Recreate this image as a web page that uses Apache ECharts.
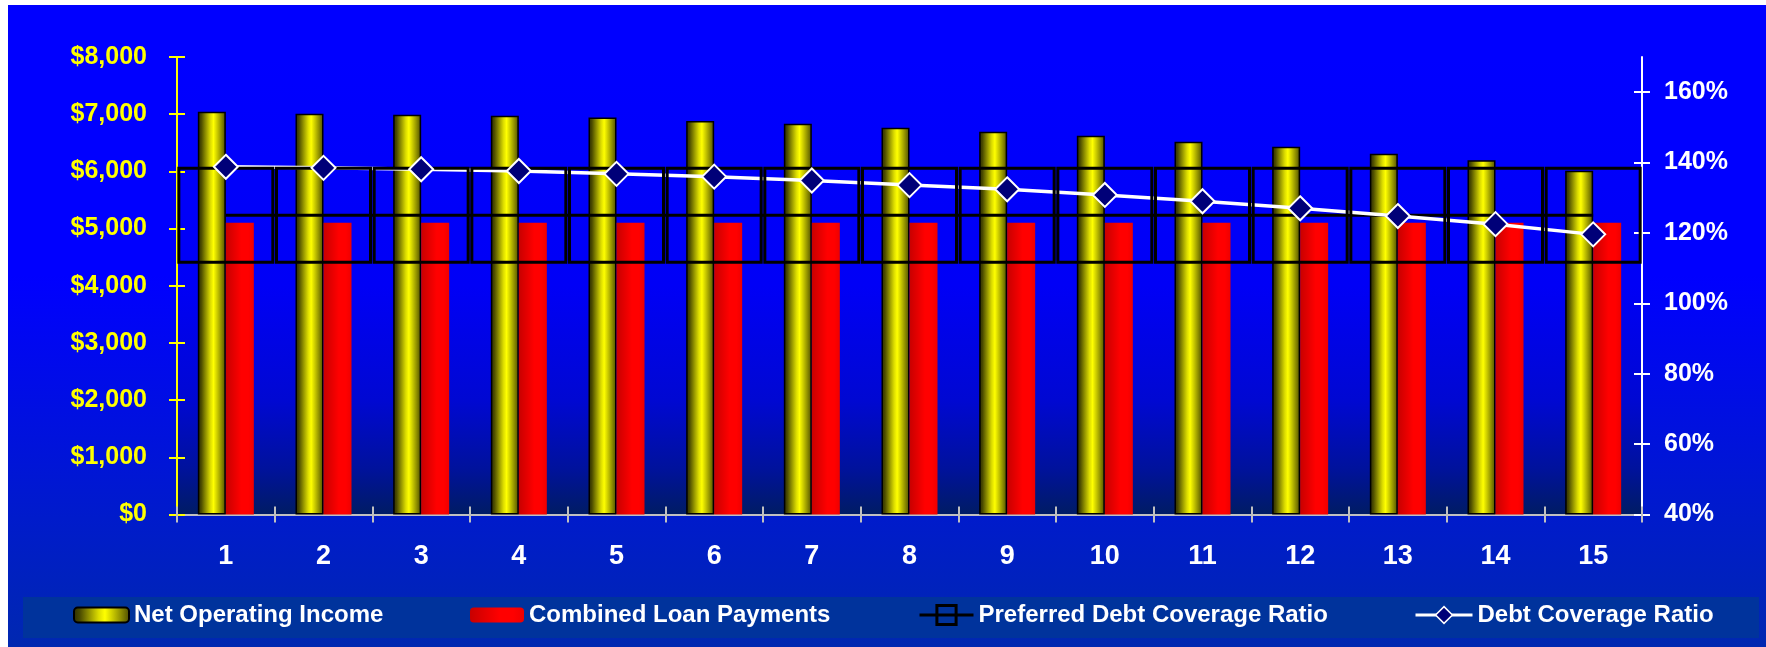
<!DOCTYPE html>
<html>
<head>
<meta charset="utf-8">
<title>Debt Coverage</title>
<script src="https://cdn.jsdelivr.net/npm/echarts@6/dist/echarts.min.js"></script>
<style>
  html, body { margin: 0; padding: 0; background: #ffffff; }
  #chart { width: 1766px; height: 647px; }
</style>
</head>
<body>
<div id="chart"></div>
<script>
// Year numbers along the bottom axis
const categories = ['1', '2', '3', '4', '5', '6', '7', '8', '9', '10', '11', '12', '13', '14', '15'];

// Dollar series (left axis)
const netOperatingIncome = [7043, 7008, 6991, 6974, 6942, 6881, 6834, 6764, 6694, 6624, 6519, 6432, 6309, 6194, 6012];
const combinedLoanPayments = [5100, 5100, 5100, 5100, 5100, 5100, 5100, 5100, 5100, 5100, 5100, 5100, 5100, 5100, 5100];

// Ratio series in percent (right axis)
const preferredDebtCoverage = [125, 125, 125, 125, 125, 125, 125, 125, 125, 125, 125, 125, 125, 125, 125];
const debtCoverageRatio = [138.8, 138.5, 138.1, 137.6, 136.8, 136.0, 134.9, 133.6, 132.4, 130.8, 129.0, 127.0, 124.8, 122.5, 119.6];

// Tick values shown on the right axis
const ratioTicks = [40, 60, 80, 100, 120, 140, 160];

const FONT = '"Liberation Sans", Arial, sans-serif';

const chart = echarts.init(document.getElementById('chart'), null, { renderer: 'canvas' });

const lg = (stops) => ({
  type: 'linear', x: 0, y: 0, x2: 0, y2: 1,
  colorStops: stops.map(s => ({ offset: s[0], color: s[1] }))
});
const hg = (stops) => ({
  type: 'linear', x: 0, y: 0, x2: 1, y2: 0,
  colorStops: stops.map(s => ({ offset: s[0], color: s[1] }))
});

const goldFill = hg([[0, '#2a2a00'], [0.12, '#4a4a00'], [0.3, '#9a9a00'], [0.45, '#dcdc00'], [0.56, '#ffff00'], [0.7, '#c8c800'], [0.85, '#8a8a00'], [1, '#4a4a00']]);
const redFill = hg([[0, '#c80000'], [0.55, '#ff0000'], [0.8, '#ff0000'], [1, '#ee0000']]);

const legendText = { color: '#ffffff', fontFamily: FONT, fontWeight: 'bold', fontSize: 24 };

const option = {
  backgroundColor: '#ffffff',
  animation: false,
  graphic: {
    elements: [
      {
        type: 'rect', z: -100, silent: true,
        shape: { x: 8, y: 5, width: 1758, height: 642 },
        style: { fill: lg([[0, '#0000ff'], [0.42, '#0000ff'], [0.8, '#001bcb'], [1, '#0028b0']]) }
      },
      {
        type: 'rect', z: -50, silent: true,
        shape: { x: 23, y: 597, width: 1736, height: 41 },
        style: { fill: '#00339c' }
      }
    ]
  },
  grid: {
    left: 177, right: 124, top: 57, bottom: 132.5,
    show: true, borderWidth: 0,
    backgroundColor: lg([[0, '#0000ff'], [0.5, '#0000f6'], [0.75, '#0008d2'], [0.9, '#00129c'], [1, '#001c64']])
  },
  legend: [
    {
      data: ['Net Operating Income'], left: 73, top: 603, padding: 0,
      itemWidth: 55, itemHeight: 15, textStyle: legendText,
      itemStyle: { borderColor: '#000000', borderWidth: 2 }
    },
    {
      data: ['Combined Loan Payments'], left: 470, top: 603, padding: 0,
      itemWidth: 54, itemHeight: 15, textStyle: legendText
    },
    {
      data: ['Preferred Debt Coverage Ratio'], left: 918, top: 603, padding: 0,
      itemWidth: 54, itemHeight: 24, textStyle: legendText,
      itemStyle: { color: 'rgba(0,0,0,0)', borderColor: '#000000', borderWidth: 3 },
      lineStyle: { color: '#000000', width: 3 }
    },
    {
      data: ['Debt Coverage Ratio'], left: 1414, top: 603, padding: 0,
      itemWidth: 57, itemHeight: 21, textStyle: legendText,
      itemStyle: { color: '#000078', borderColor: '#ffffff', borderWidth: 1.5 },
      lineStyle: { color: '#ffffff', width: 3 }
    }
  ],
  xAxis: [
    {
      type: 'category', data: categories, position: 'bottom',
      axisLine: { onZero: false, lineStyle: { color: '#c0c0c0', width: 2 } },
      axisTick: { show: true, length: 8, lineStyle: { color: '#c0c0c0', width: 2 } },
      axisLabel: { color: '#ffffff', fontFamily: FONT, fontWeight: 'bold', fontSize: 27, margin: 29 },
      splitLine: { show: false }
    },
    {
      type: 'category', data: categories, position: 'bottom',
      axisLine: { show: false, onZero: false },
      axisTick: { show: true, inside: true, length: 8, lineStyle: { color: '#c0c0c0', width: 2 } },
      axisLabel: { show: false },
      splitLine: { show: false }
    }
  ],
  yAxis: [
    {
      type: 'value', position: 'left', min: 0, max: 8000, interval: 1000,
      axisLine: { show: true, lineStyle: { color: '#ffff00', width: 2 } },
      axisTick: { show: true, length: 8, lineStyle: { color: '#ffff00', width: 2 } },
      axisLabel: {
        color: '#ffff00', fontFamily: FONT, fontWeight: 'bold', fontSize: 25, margin: 30,
        formatter: v => '$' + v.toLocaleString('en-US')
      },
      splitLine: { show: false }
    },
    {
      type: 'value', position: 'right', min: 40, max: 170,
      axisLine: { show: true, lineStyle: { color: '#ffffff', width: 2 } },
      axisTick: { show: true, length: 8, customValues: ratioTicks, lineStyle: { color: '#ffffff', width: 2 } },
      axisLabel: {
        color: '#ffffff', fontFamily: FONT, fontWeight: 'bold', fontSize: 25, margin: 22,
        customValues: ratioTicks, formatter: v => Math.round(v) + '%'
      },
      splitLine: { show: false }
    },
    {
      type: 'value', position: 'left', min: 0, max: 8000, interval: 1000,
      axisLine: { show: false },
      axisTick: { show: true, inside: true, length: 8, lineStyle: { color: '#ffff00', width: 2 } },
      axisLabel: { show: false },
      splitLine: { show: false }
    },
    {
      type: 'value', position: 'right', min: 40, max: 170,
      axisLine: { show: false },
      axisTick: { show: true, inside: true, length: 8, customValues: ratioTicks, lineStyle: { color: '#ffffff', width: 2 } },
      axisLabel: { show: false },
      splitLine: { show: false }
    }
  ],
  series: [
    {
      name: 'Net Operating Income', type: 'bar', yAxisIndex: 0,
      data: netOperatingIncome, barWidth: 28, barGap: '0%',
      itemStyle: { color: goldFill, borderColor: '#000000', borderWidth: 1.5 }
    },
    {
      name: 'Combined Loan Payments', type: 'bar', yAxisIndex: 0,
      data: combinedLoanPayments, barWidth: 28, barGap: '0%',
      itemStyle: { color: redFill }
    },
    {
      name: 'Preferred Debt Coverage Ratio', type: 'line', yAxisIndex: 1,
      data: preferredDebtCoverage,
      symbol: 'rect', symbolSize: 94,
      lineStyle: { color: '#000000', width: 3 },
      itemStyle: { color: 'rgba(0,0,0,0)', borderColor: '#000000', borderWidth: 3 }
    },
    {
      name: 'Debt Coverage Ratio', type: 'line', yAxisIndex: 1,
      data: debtCoverageRatio,
      symbol: 'diamond', symbolSize: 24,
      lineStyle: { color: '#ffffff', width: 3.5 },
      itemStyle: { color: '#000078', borderColor: '#ffffff', borderWidth: 2 }
    }
  ]
};

chart.setOption(option);
</script>
</body>
</html>
